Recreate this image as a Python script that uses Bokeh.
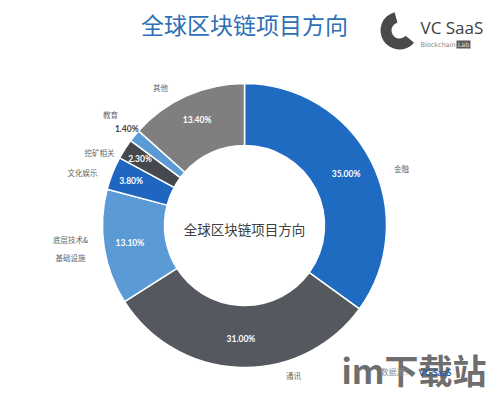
import math
from bokeh.plotting import figure
from bokeh.models import Range1d, ColumnDataSource
from bokeh.core.properties import value
from bokeh.embed import file_html
from bokeh.resources import INLINE

# ---- data ----
categories = ["金融", "通讯", "底层技术&\n基础设施", "文化娱乐", "挖矿相关", "教育", "其他"]
shares = [35.0, 31.0, 13.1, 3.8, 2.3, 1.4, 13.4]
pct_labels = ["35.00%", "31.00%", "13.10%", "3.80%", "2.30%", "1.40%", "13.40%"]
title_text = "全球区块链项目方向"

# ---- style / layout ----
colors = ["#1F6BC1", "#55585E", "#5B9BD5", "#1F66C0", "#45484D", "#5B9BD5", "#7F7F7F"]
pct_colors = ["white", "white", "white", "white", "white", "#404040", "white"]
pct_radius = [114, 114, 116, 122, 124, 152, 116]
cat_pos = [(401, 168), (293, 375), (70, 248), (82, 172), (99, 152), (110, 114), (160, 87)]

W, H = 499, 394
CX, CY = 244, 225
R_OUT, R_IN = 142, 80


def Y(ref_y):
    return H - ref_y


p = figure(width=W, height=H, output_backend="svg", toolbar_location=None,
           x_range=Range1d(0, W), y_range=Range1d(0, H),
           min_border=0, outline_line_color=None)
p.axis.visible = False
p.grid.visible = False
p.background_fill_color = "white"
p.border_fill_color = "white"

# wedges: clockwise from top
total = sum(shares)
starts, ends, mids = [], [], []
cum = 0.0
for v in shares:
    a0 = math.pi / 2 - 2 * math.pi * cum / total
    cum += v
    a1 = math.pi / 2 - 2 * math.pi * cum / total
    starts.append(a1)
    ends.append(a0)
    mids.append((a0 + a1) / 2)

src = ColumnDataSource(dict(start=starts, end=ends, color=colors))
p.annular_wedge(x=CX, y=Y(CY), inner_radius=R_IN, outer_radius=R_OUT,
                start_angle="start", end_angle="end", fill_color="color",
                line_color="white", line_width=1.5, source=src)

# percentage labels
lx = [CX + r * math.cos(m) for r, m in zip(pct_radius, mids)]
ly = [Y(CY) + r * math.sin(m) for r, m in zip(pct_radius, mids)]
p.text(x=lx, y=ly, text=pct_labels, text_color=pct_colors,
       text_font=value("Lato"), text_font_style="bold", text_font_size="8.5px",
       text_align="center", text_baseline="middle")

# category labels
p.text(x=[c[0] for c in cat_pos], y=[Y(c[1]) for c in cat_pos], text=categories,
       text_color="#666666", text_font=value("Noto Sans CJK SC"),
       text_font_size="7.5px", text_align="center", text_baseline="middle",
       text_line_height=1.6)

# center text
p.text(x=[CX], y=[Y(228)], text=[title_text], text_color="#404040",
       text_font=value("Noto Sans CJK SC"), text_font_size="13.5px",
       text_align="center", text_baseline="middle")

# title
p.text(x=[244], y=[Y(23)], text=[title_text], text_color="#2E6FB5",
       text_font=value("Noto Sans CJK SC"), text_font_size="23px",
       text_align="center", text_baseline="middle")

# logo
p.annular_wedge(x=399, y=Y(30), inner_radius=8, outer_radius=19,
                start_angle=math.radians(105), end_angle=math.radians(-40),
                direction="anticlock", fill_color="#4A4A4A", line_color=None)
p.text(x=[420], y=[Y(27)], text=["VC SaaS"], text_color="#404040",
       text_font=value("Open Sans"), text_font_size="17px",
       text_align="left", text_baseline="middle")
p.text(x=[420], y=[Y(44)], text=["Blockchain"], text_color="#8A8A8A",
       text_font=value("DejaVu Sans"), text_font_size="6.5px",
       text_align="left", text_baseline="middle")
p.quad(left=456, right=470, bottom=Y(48), top=Y(40), fill_color="#5A5A5A", line_color=None)
p.text(x=[463], y=[Y(44)], text=["Lab"], text_color="#DDDDDD",
       text_font=value("DejaVu Sans"), text_font_size="6.5px",
       text_align="center", text_baseline="middle")

# watermark
p.text(x=[341], y=[Y(369)], text=["im下载站"], text_color="#6E6E6E",
       text_font=value("Noto Sans CJK SC"), text_font_style="bold",
       text_font_size="34px", text_align="left", text_baseline="middle")

# footer
p.text(x=[380], y=[Y(371)], text=["数据源："], text_color="#8A8A8A",
       text_font=value("Noto Sans CJK SC"), text_font_size="8px",
       text_align="left", text_baseline="middle")
p.text(x=[418], y=[Y(372)], text=["VC SaaS"], text_color="#1F5FA8",
       text_font=value("Lato"), text_font_style="bold", text_font_size="9px",
       text_align="left", text_baseline="middle")

open("out.html", "w").write(file_html(p, INLINE))
